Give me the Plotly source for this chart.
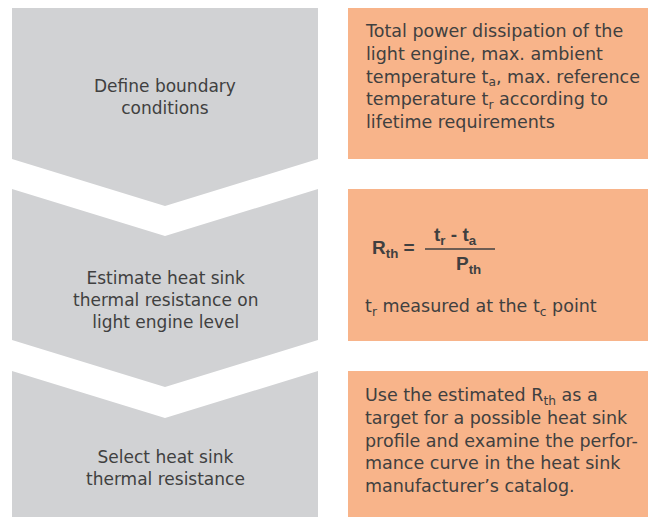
import plotly.graph_objects as go

# --- content ---
steps = [
    "Define boundary<br>conditions",
    "Estimate heat sink<br>thermal resistance on<br>light engine level",
    "Select heat sink<br>thermal resistance",
]
notes = [
    "Total power dissipation of the<br>light engine, max. ambient<br>temperature t<sub>a</sub>, max. reference<br>temperature t<sub>r</sub> according to<br>lifetime requirements",
    "t<sub>r</sub> measured at the t<sub>c</sub> point",
    "Use the estimated R<sub>th</sub> as a<br>target for a possible heat sink<br>profile and examine the perfor-<br>mance curve in the heat sink<br>manufacturer’s catalog.",
]
formula_lhs = "<b>R<sub>th</sub> =</b>"
formula_num = "<b>t<sub>r</sub> - t<sub>a</sub></b>"
formula_den = "<b>P<sub>th</sub></b>"

GRAY = "#d1d2d4"
ORANGE = "#f8b48a"
TEXT = "#404040"
FONT = "DejaVu Sans, Open Sans, sans-serif"
FORMULA_FONT = "Liberation Sans, Arial, sans-serif"

W, H = 656, 517
OFF = 8  # page body margin
xl, xr, xc = 12, 318, 165
drop = 47

# chevron blocks: (top edge y at sides, bottom edge y at sides, notched top?)
blocks = [(7, 159, False), (189, 340, True), (371, 530, True)]
boxes = [(8, 159), (189, 341), (371, 530)]
step_y = [97, 300, 468]

fig = go.Figure()
shapes = []
for top, bot, notch in blocks:
    tc = top + drop if notch else top
    if bot >= H:
        path = f"M{xl},{top} L{xc},{tc} L{xr},{top} L{xr},{bot} L{xl},{bot} Z"
    else:
        path = f"M{xl},{top} L{xc},{tc} L{xr},{top} L{xr},{bot} L{xc},{bot + drop} L{xl},{bot} Z"
    shapes.append(dict(type="path", path=path, fillcolor=GRAY, line=dict(width=0), layer="below"))

for top, bot in boxes:
    shapes.append(dict(type="rect", x0=348, x1=670, y0=top, y1=bot,
                       fillcolor=ORANGE, line=dict(width=0), layer="below"))

# fraction bar
shapes.append(dict(type="line", x0=425, x1=495, y0=249, y1=249,
                   line=dict(color=TEXT, width=1.5)))

ann = []
for txt, y in zip(steps, step_y):
    ann.append(dict(x=xc, y=y, text=txt, showarrow=False, xanchor="center",
                    yanchor="middle", align="center",
                    font=dict(size=17, color=TEXT, family=FONT)))

ann.append(dict(x=363, y=76, text=notes[0], showarrow=False, xanchor="left",
                yanchor="middle", align="left", font=dict(size=17.5, color=TEXT, family=FONT)))
ann.append(dict(x=363, y=307, text=notes[1], showarrow=False, xanchor="left",
                yanchor="middle", align="left", font=dict(size=17.5, color=TEXT, family=FONT)))
ann.append(dict(x=363, y=440, text=notes[2], showarrow=False, xanchor="left",
                yanchor="middle", align="left", font=dict(size=17.5, color=TEXT, family=FONT)))

ann.append(dict(x=370, y=249, text=formula_lhs, showarrow=False, xanchor="left",
                yanchor="middle", font=dict(size=19, color=TEXT, family=FORMULA_FONT)))
ann.append(dict(x=455, y=236, text=formula_num, showarrow=False, xanchor="center",
                yanchor="middle", font=dict(size=19, color=TEXT, family=FORMULA_FONT)))
ann.append(dict(x=468, y=265, text=formula_den, showarrow=False, xanchor="center",
                yanchor="middle", font=dict(size=19, color=TEXT, family=FORMULA_FONT)))

fig.update_layout(
    width=W, height=H,
    margin=dict(l=0, r=0, t=0, b=0),
    paper_bgcolor="white", plot_bgcolor="white",
    xaxis=dict(range=[OFF, W + OFF], visible=False, fixedrange=True),
    yaxis=dict(range=[H + OFF, OFF], visible=False, fixedrange=True),
    shapes=shapes, annotations=ann, showlegend=False,
)

fig.write_html("out.html")
